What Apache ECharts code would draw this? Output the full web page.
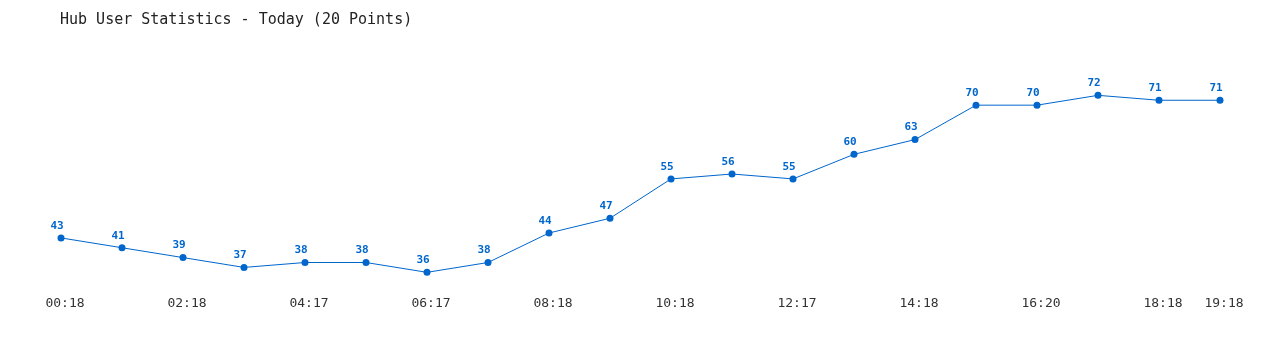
<!DOCTYPE html>
<html>
<head>
<meta charset="utf-8">
<script src="https://cdn.jsdelivr.net/npm/echarts@6/dist/echarts.min.js"></script>
<style>
html,body{margin:0;padding:0;background:#fff;}
#chart{width:1280px;height:350px;}
</style>
</head>
<body>
<div id="chart"></div>
<script>
const titleText = 'Hub User Statistics - Today (20 Points)';
const categories = ['00:18','01:18','02:18','03:18','04:17','05:17','06:17','07:17','08:18','09:18','10:18','11:18','12:17','13:17','14:18','15:18','16:20','17:18','18:18','19:18'];
const users = [43,41,39,37,38,38,36,38,44,47,55,56,55,60,63,70,70,72,71,71];

const chart = echarts.init(document.getElementById('chart'), null, {renderer:'canvas'});
const mono = '"DejaVu Sans Mono", "Liberation Mono", monospace';
chart.setOption({
  animation:false,
  backgroundColor:'#ffffff',
  title:{
    text:titleText,
    left:55, top:8,
    textStyle:{fontFamily:mono, fontSize:15, fontWeight:'normal', color:'#222'}
  },
  grid:{left:61, right:60, top:56, bottom:58, containLabel:false},
  xAxis:{
    type:'category',
    data:categories,
    boundaryGap:false,
    axisLine:{show:false},
    axisTick:{show:false},
    splitLine:{show:false},
    axisLabel:{
      interval:0,
      formatter:function(v, i){ return (i % 2 === 0 || i === categories.length-1) ? v : ''; },
      fontFamily:mono, fontSize:13, color:'#333', margin:5,
      padding:[0,0,0,8]
    }
  },
  yAxis:{
    type:'value',
    min:32, max:80,
    show:false,
    splitLine:{show:false}
  },
  series:[{
    type:'line',
    data:users,
    symbol:'circle',
    symbolSize:7,
    lineStyle:{color:'#0066cc', width:1},
    itemStyle:{color:'#0066cc'},
    label:{
      show:true, position:'top', distance:3, offset:[-4,0],
      fontFamily:mono, fontSize:11, fontWeight:'bold', color:'#0066cc'
    }
  }]
});
</script>
</body>
</html>
